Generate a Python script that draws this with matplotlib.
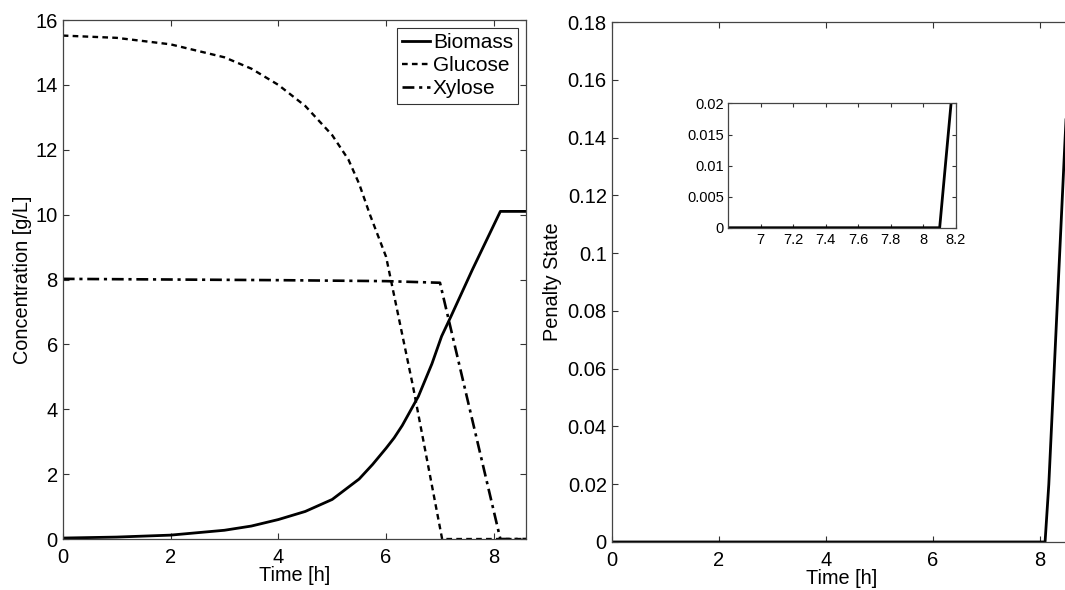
import matplotlib
matplotlib.use("Agg")
import matplotlib.pyplot as plt

plt.rcParams['font.family'] = ['Liberation Sans', 'DejaVu Sans']

# ---- data ----
biomass_t = [0, 1, 2, 3, 3.5, 4, 4.5, 5, 5.5, 5.75, 6, 6.15, 6.3, 6.45, 6.6, 6.7, 6.85, 7.03, 7.2, 7.6, 8.12, 8.6]
biomass = [0.03, 0.06, 0.12, 0.27, 0.4, 0.6, 0.85, 1.22, 1.85, 2.3, 2.8, 3.12, 3.5, 3.95, 4.4, 4.8, 5.4, 6.25, 6.85, 8.3, 10.1, 10.1]

glucose_t = [0, 1, 2, 3, 3.5, 4, 4.5, 5, 5.3, 5.5, 5.7, 5.85, 6.0, 6.5, 7.04, 8.6]
glucose = [15.52, 15.45, 15.25, 14.85, 14.5, 14.0, 13.35, 12.45, 11.7, 10.95, 10.0, 9.35, 8.7, 4.7, 0, 0]

xylose_t = [0, 2, 4, 6, 7.0, 8.12, 8.6]
xylose = [8.02, 8.0, 7.98, 7.95, 7.9, 0, 0]

penalty_t = [0, 8.1, 8.17, 8.47, 8.6]
penalty = [0, 0, 0.02, 0.138, 0.188]

left_yticks = [0, 2, 4, 6, 8, 10, 12, 14, 16]
right_yticks = [0, 0.02, 0.04, 0.06, 0.08, 0.1, 0.12, 0.14, 0.16, 0.18]
right_yticklabels = ['0', '0.02', '0.04', '0.06', '0.08', '0.1', '0.12', '0.14', '0.16', '0.18']
main_xticks = [0, 2, 4, 6, 8]
inset_xticks = [7, 7.2, 7.4, 7.6, 7.8, 8, 8.2]
inset_xticklabels = ['7', '7.2', '7.4', '7.6', '7.8', '8', '8.2']
inset_yticks = [0, 0.005, 0.01, 0.015, 0.02]
inset_yticklabels = ['0', '0.005', '0.01', '0.015', '0.02']

fig = plt.figure(figsize=(10.65, 5.9), dpi=100)

def style(ax, fs, tl=4, xpad=6.5, ypad=3.5):
    ax.tick_params(direction='in', top=True, right=True, length=tl, width=0.8,
                   labelsize=fs, colors='#333333', labelcolor='black')
    ax.tick_params(axis='x', pad=xpad)
    ax.tick_params(axis='y', pad=ypad)
    for s in ax.spines.values():
        s.set_linewidth(0.9)
        s.set_color('#444444')

# ---- left panel ----
ax1 = fig.add_axes([0.0589, 0.0864, 0.4352, 0.8797])
ax1.plot(biomass_t, biomass, color='black', lw=2.0, ls='-', label='Biomass')
ax1.plot(glucose_t, glucose, color='black', lw=1.7, ls=(0, (2.4, 1.8)), label='Glucose')
ax1.plot(xylose_t, xylose, color='black', lw=1.9, ls=(0, (4.5, 1.8, 1.2, 1.8)), label='Xylose')
ax1.set_xlim(0, 8.6)
ax1.set_ylim(0, 16)
ax1.set_xticks(main_xticks)
ax1.set_yticks(left_yticks)
style(ax1, 14.5)
ax1.set_xlabel('Time [h]', fontsize=14.3, labelpad=-1)
ax1.set_ylabel('Concentration [g/L]', fontsize=14.3)
ax1.yaxis.set_label_coords(-0.067, 0.5)
leg = ax1.legend(loc='upper right', fontsize=15, frameon=True, fancybox=False,
                 borderaxespad=0.38, handlelength=1.35, handletextpad=0.15,
                 labelspacing=0.2, borderpad=0.25)
leg.get_frame().set_edgecolor('black')
leg.get_frame().set_linewidth(0.8)

# ---- right panel ----
ax2 = fig.add_axes([0.5744, 0.0814, 0.432, 0.881])
ax2.plot(penalty_t, penalty, color='black', lw=2.0)
ax2.set_xlim(0, 8.6)
ax2.set_ylim(0, 0.18)
ax2.set_xticks(main_xticks)
ax2.set_yticks(right_yticks)
ax2.set_yticklabels(right_yticklabels)
style(ax2, 14.5)
ax2.set_xlabel('Time [h]', fontsize=14.3, labelpad=-1)
ax2.set_ylabel('Penalty State', fontsize=14.3)
ax2.yaxis.set_label_coords(-0.108, 0.5)

# ---- inset ----
ax3 = fig.add_axes([0.6836, 0.614, 0.214, 0.2107])
ax3.plot(penalty_t, penalty, color='black', lw=2.0)
ax3.set_xlim(6.8, 8.2)
ax3.set_ylim(0, 0.02)
ax3.set_xticks(inset_xticks)
ax3.set_xticklabels(inset_xticklabels)
ax3.set_yticks(inset_yticks)
ax3.set_yticklabels(inset_yticklabels)
style(ax3, 10.5, tl=3, xpad=4, ypad=3)

fig.savefig('out.png', dpi=100)
